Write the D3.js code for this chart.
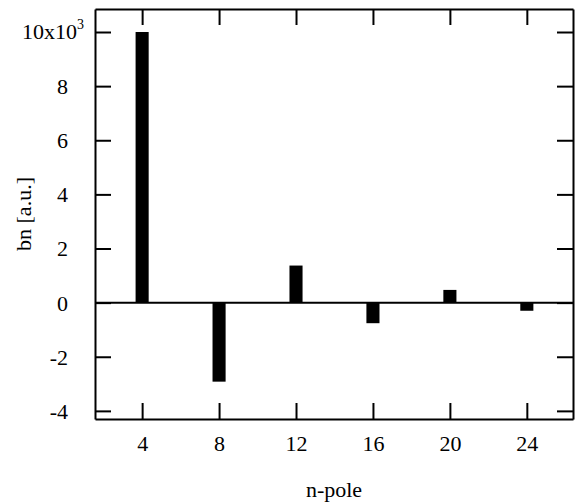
<!DOCTYPE html>
<html><head><meta charset="utf-8">
<script src="https://cdn.jsdelivr.net/npm/d3@7"></script>
<style>
body{margin:0;background:#fff;}
svg text{font-family:'Liberation Serif', Tinos, 'Times New Roman', 'DejaVu Serif', 'Noto Serif', serif !important;fill:#000;}
</style></head>
<body><svg id="c" width="580" height="504"></svg>
<script>
const categories = [4, 8, 12, 16, 20, 24];
const values = [10, -2.92, 1.37, -0.76, 0.47, -0.30]; // in units of 10^3
const yTicks = [-4, -2, 0, 2, 4, 6, 8, 10];
const xTicks = [4, 8, 12, 16, 20, 24];

(function () {
const svg = d3.select("#c");
const L = 95, R = 573, T = 9, B = 419;
const x = d3.scaleLinear().domain([1.55, 26.4]).range([L, R]);
const y = d3.scaleLinear().domain([-4.30, 10.85]).range([B, T]);
const halfW = 0.34;
const FS = "22px";

// bars
svg.append("g").selectAll("rect").data(categories).join("rect")
  .attr("x", d => x(d - halfW))
  .attr("width", d => x(d + halfW) - x(d - halfW))
  .attr("y", (d, i) => y(Math.max(0, values[i])))
  .attr("height", (d, i) => Math.abs(y(values[i]) - y(0)))
  .attr("fill", "#000");

// zero line
svg.append("line").attr("x1", L).attr("x2", R).attr("y1", y(0)).attr("y2", y(0))
  .attr("stroke", "#000").attr("stroke-width", 2);

// axes
const tickLen = 16;
const fmtY = d => d === 10 ? "" : String(d);
const gLeft = svg.append("g").attr("transform", `translate(${L},0)`)
  .call(d3.axisLeft(y).tickValues(yTicks).tickSizeInner(-tickLen).tickSizeOuter(0).tickPadding(tickLen + 11).tickFormat(fmtY));
const gRight = svg.append("g").attr("transform", `translate(${R},0)`)
  .call(d3.axisRight(y).tickValues(yTicks).tickSizeInner(-tickLen).tickSizeOuter(0).tickFormat(""));
const gBottom = svg.append("g").attr("transform", `translate(0,${B})`)
  .call(d3.axisBottom(x).tickValues(xTicks).tickSizeInner(-tickLen).tickSizeOuter(0).tickPadding(tickLen + 14).tickFormat(d3.format("d")));
const gTop = svg.append("g").attr("transform", `translate(0,${T})`)
  .call(d3.axisTop(x).tickValues(xTicks).tickSizeInner(-tickLen).tickSizeOuter(0).tickFormat(""));

[gLeft, gRight, gBottom, gTop].forEach(g => {
  g.attr("font-family", null).attr("font-size", null);
  g.selectAll(".domain").attr("stroke", "#000").attr("stroke-width", 2);
  g.selectAll(".tick line").attr("stroke", "#000").attr("stroke-width", 2);
  g.selectAll("text").attr("fill", "#000").style("font-size", FS);
});
gLeft.selectAll(".tick text").attr("dy", "0.34em");
gBottom.selectAll(".tick text").attr("dy", "0").attr("y", 451 - B);

// 10x10^3 label
const topLbl = svg.append("text").attr("x", 84).attr("y", y(10)).attr("dy", "0.34em")
  .attr("text-anchor", "end").style("font-size", FS);
topLbl.append("tspan").text("10x10");
topLbl.append("tspan").attr("dy", "-10").style("font-size", "14px").text("3");

// axis titles
svg.append("text").attr("x", (L + R) / 2).attr("y", 497).attr("text-anchor", "middle")
  .style("font-size", FS).text("n-pole");
svg.append("text").attr("transform", `translate(31,${(T + B) / 2}) rotate(-90)`).attr("text-anchor", "middle")
  .style("font-size", FS).text("bn [a.u.]");
})();
</script></body></html>
